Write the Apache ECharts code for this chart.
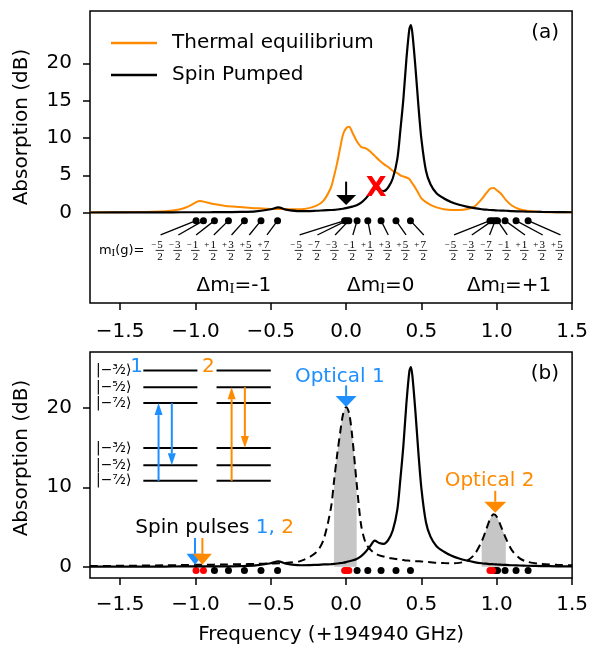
<!DOCTYPE html>
<html>
<head>
<meta charset="utf-8">
<script src="https://cdn.jsdelivr.net/npm/echarts@6/dist/echarts.min.js"></script>
<style>
  html, body { margin: 0; padding: 0; background: #fff; }
  #chart { width: 591px; height: 649px; }
</style>
</head>
<body>
<div id="chart"></div>
<script>
// frequency (GHz, relative to 194940 GHz)
var freq = [-1.7, -1.4, -1.2, -1.1, -1.05, -1.0, -0.97, -0.93, -0.88, -0.8, -0.7, -0.6, -0.5, -0.45, -0.4, -0.3, -0.2, -0.15, -0.1, -0.08, -0.06, -0.04, -0.02, 0.0, 0.02, 0.04, 0.07, 0.1, 0.13, 0.16, 0.19, 0.22, 0.25, 0.28, 0.31, 0.34, 0.36, 0.38, 0.40, 0.42, 0.43, 0.44, 0.46, 0.48, 0.50, 0.53, 0.56, 0.6, 0.65, 0.7, 0.75, 0.8, 0.85, 0.9, 0.93, 0.96, 0.98, 1.0, 1.03, 1.06, 1.1, 1.15, 1.2, 1.3, 1.4, 1.5];
// absorption (dB)
var thermal = [0.05, 0.08, 0.2, 0.45, 0.8, 1.35, 1.55, 1.4, 1.15, 0.9, 0.75, 0.6, 0.5, 0.5, 0.45, 0.45, 0.9, 1.6, 3.4, 4.9, 6.6, 8.6, 10.5, 11.3, 11.5, 10.8, 9.6, 8.8, 8.6, 8.2, 7.6, 7.0, 6.5, 6.1, 5.6, 5.3, 5.0, 4.85, 4.7, 4.5, 4.2, 3.9, 3.3, 2.6, 1.9, 1.4, 1.05, 0.7, 0.45, 0.35, 0.35, 0.45, 0.8, 1.8, 2.6, 3.25, 3.3, 3.0, 2.5, 1.7, 0.95, 0.45, 0.25, 0.1, 0.06, 0.05];
var pumped = [0.02, 0.03, 0.04, 0.05, 0.05, 0.05, 0.05, 0.05, 0.06, 0.07, 0.1, 0.18, 0.45, 0.7, 0.4, 0.2, 0.25, 0.3, 0.35, 0.38, 0.42, 0.47, 0.52, 0.6, 0.7, 0.8, 1.0, 1.35, 1.9, 2.6, 3.3, 3.0, 2.9, 3.4, 4.6, 7.2, 11.0, 15.2, 20.5, 24.6, 25.1, 24.0, 19.5, 14.3, 9.8, 5.6, 3.8, 2.6, 1.9, 1.4, 1.05, 0.8, 0.6, 0.45, 0.4, 0.35, 0.33, 0.3, 0.27, 0.25, 0.2, 0.17, 0.14, 0.1, 0.07, 0.05];
var burned = [0.1, 0.15, 0.2, 0.22, 0.24, 0.25, 0.25, 0.27, 0.28, 0.3, 0.33, 0.37, 0.42, 0.45, 0.5, 0.75, 1.8, 3.4, 7.5, 10.8, 14.0, 16.8, 19.2, 20.1, 19.3, 16.5, 10.5, 5.2, 3.0, 2.2, 1.7, 1.45, 1.3, 1.15, 1.05, 0.95, 0.9, 0.85, 0.8, 0.78, 0.76, 0.75, 0.72, 0.7, 0.68, 0.62, 0.58, 0.52, 0.48, 0.46, 0.5, 0.75, 1.5, 3.2, 4.7, 6.2, 6.6, 6.3, 5.0, 3.6, 2.1, 1.1, 0.65, 0.35, 0.25, 0.2];
var holeWindows = [[-0.08, 0.07], [0.9, 1.06]];

// hyperfine transitions and their ground-state labels
var dotsMinus1 = [-0.996, -0.947, -0.874, -0.781, -0.675, -0.565, -0.455];
var dotsZero = [-0.01, 0.003, 0.018, 0.073, 0.144, 0.232, 0.331, 0.427];
var dotsPlus1 = [0.955, 0.972, 0.99, 1.005, 1.055, 1.128, 1.208];
var labelsMinus1 = ['\u22125/2', '\u22123/2', '\u22121/2', '+1/2', '+3/2', '+5/2', '+7/2'];
var labelsZero = ['\u22125/2', '\u22127/2', '\u22123/2', '\u22121/2', '+1/2', '+3/2', '+5/2', '+7/2'];
var labelsPlus1 = ['\u22125/2', '\u22123/2', '\u22127/2', '\u22121/2', '+1/2', '+3/2', '+5/2'];
var pumpedDots = [-0.996, -0.947, -0.01, 0.003, 0.018, 0.955, 0.972];

var ticksX = [-1.5, -1, -0.5, 0, 0.5, 1, 1.5];
var ticksTop = [0, 5, 10, 15, 20];
var ticksBottom = [0, 10, 20];

var FONT = 'DejaVu Sans';
var SERIF = 'Liberation Serif';
var ORANGE = '#ff8a00';
var BLUE = '#1e8fff';

var chart = echarts.init(document.getElementById('chart'));

var allDots = dotsMinus1.concat(dotsZero, dotsPlus1);
var otherDots = allDots.filter(function (f) { return pumpedDots.indexOf(f) < 0; });

function pairs(ys) {
  return freq.map(function (f, i) { return [f, ys[i]]; });
}
function windowPairs(w) {
  var out = [];
  freq.forEach(function (f, i) {
    if (f >= w[0] - 1e-9 && f <= w[1] + 1e-9) out.push([f, burned[i]]);
  });
  return out;
}
function fmtX(v) {
  return (v < 0 ? '\u2212' : '') + Math.abs(v).toFixed(1);
}

function xAxis(g, name, margin) {
  return {
    type: 'value', gridIndex: g, min: -1.7, max: 1.5,
    axisLine: { show: false, onZero: false }, splitLine: { show: false },
    axisTick: { show: true, length: 7, lineStyle: { color: '#000', width: 1.5 }, customValues: ticksX },
    axisLabel: { customValues: ticksX, formatter: fmtX, fontSize: 20, fontFamily: FONT, color: '#000', margin: margin },
    name: name, nameLocation: 'middle', nameGap: 47,
    nameTextStyle: { fontSize: 20, fontFamily: FONT, color: '#000' }
  };
}
function yAxis(g, min, max, ticks) {
  return {
    type: 'value', gridIndex: g, min: min, max: max,
    axisLine: { show: false, onZero: false }, splitLine: { show: false },
    axisTick: { show: true, length: 7, lineStyle: { color: '#000', width: 1.5 }, customValues: ticks },
    axisLabel: { customValues: ticks, fontSize: 20, fontFamily: FONT, color: '#000', margin: 18 }
  };
}

var option = {
  animation: false,
  backgroundColor: '#fff',
  grid: [
    { left: 90, top: 11, width: 484, height: 292, show: true, borderColor: '#000', borderWidth: 1.5 },
    { left: 90, top: 352, width: 484, height: 226, show: true, borderColor: '#000', borderWidth: 1.5 }
  ],
  xAxis: [xAxis(0, '', 19), xAxis(1, 'Frequency (+194940 GHz)', 17)],
  yAxis: [yAxis(0, -12.1, 27, ticksTop), yAxis(1, -1.4, 27, ticksBottom)],
  legend: {
    data: ['Thermal equilibrium', 'Spin Pumped'],
    orient: 'vertical', left: 106, top: 28, icon: 'rect',
    itemWidth: 46, itemHeight: 2.5, itemGap: 12,
    textStyle: { fontSize: 20, fontFamily: FONT, color: '#000', padding: [0, 0, 0, 10] }
  },
  series: [
    { name: 'Thermal equilibrium', type: 'line', xAxisIndex: 0, yAxisIndex: 0, data: pairs(thermal),
      symbol: 'none', smooth: 0.3, lineStyle: { color: ORANGE, width: 2 }, itemStyle: { color: ORANGE } },
    { name: 'Spin Pumped', type: 'line', xAxisIndex: 0, yAxisIndex: 0, data: pairs(pumped),
      symbol: 'none', smooth: 0.3, lineStyle: { color: '#000', width: 2.2 }, itemStyle: { color: '#000' } },
    { name: 'lines a', type: 'scatter', xAxisIndex: 0, yAxisIndex: 0,
      data: allDots.map(function (f) { return [f, -1.07]; }), symbolSize: 7, itemStyle: { color: '#000', opacity: 1 } },
    { name: 'hole 1', type: 'line', xAxisIndex: 1, yAxisIndex: 1, data: windowPairs(holeWindows[0]),
      symbol: 'none', smooth: 0.3, lineStyle: { width: 0 }, areaStyle: { color: '#c6c6c6', opacity: 1 } },
    { name: 'hole 2', type: 'line', xAxisIndex: 1, yAxisIndex: 1, data: windowPairs(holeWindows[1]),
      symbol: 'none', smooth: 0.3, lineStyle: { width: 0 }, areaStyle: { color: '#c6c6c6', opacity: 1 } },
    { name: 'Burned', type: 'line', xAxisIndex: 1, yAxisIndex: 1, data: pairs(burned),
      symbol: 'none', smooth: 0.3, lineStyle: { color: '#000', width: 2, type: [8, 5] } },
    { name: 'Spin Pumped b', type: 'line', xAxisIndex: 1, yAxisIndex: 1, data: pairs(pumped),
      symbol: 'none', smooth: 0.3, lineStyle: { color: '#000', width: 2.2 } },
    { name: 'lines b', type: 'scatter', xAxisIndex: 1, yAxisIndex: 1,
      data: otherDots.map(function (f) { return [f, -0.46]; }), symbolSize: 7, itemStyle: { color: '#000', opacity: 1 } },
    { name: 'pumped lines b', type: 'scatter', xAxisIndex: 1, yAxisIndex: 1,
      data: pumpedDots.map(function (f) { return [f, -0.46]; }), symbolSize: 7, itemStyle: { color: '#ff0000', opacity: 1 } }
  ]
};
chart.setOption(option);

// ---- annotations ----
function P(g, x, y) { return chart.convertToPixel({ gridIndex: g }, [x, y]); }
var el = [];
function line(a, b, color, w) {
  el.push({ type: 'line', silent: true, z: 100, shape: { x1: a[0], y1: a[1], x2: b[0], y2: b[1] }, style: { stroke: color, lineWidth: w } });
}
function text(p, str, o) {
  o = o || {};
  var st = {
    text: str, fill: o.color || '#000',
    font: (o.weight || 'normal') + ' ' + (o.size || 20) + 'px "' + (o.family || FONT) + '"',
    textAlign: o.align || 'center', textVerticalAlign: o.valign || 'middle',
    align: o.align || 'center', verticalAlign: o.valign || 'middle'
  };
  if (o.rich) st.rich = o.rich;
  el.push({ type: 'text', silent: true, z: 100, x: p[0], y: p[1], rotation: o.rot || 0, style: st });
}
function arrow(p0, p1, color, headW, headL, lw) {
  var dir = p1[1] > p0[1] ? 1 : -1;
  var base = p1[1] - dir * headL;
  line(p0, [p1[0], base], color, lw);
  el.push({ type: 'polygon', silent: true, z: 100,
    shape: { points: [[p1[0] - headW / 2, base], [p1[0] + headW / 2, base], [p1[0], p1[1]]] },
    style: { fill: color } });
}

// axis titles
text([22, 127], 'Absorption (dB)', { rot: Math.PI / 2 });
text([22, 458], 'Absorption (dB)', { rot: Math.PI / 2 });

// panel tags
text(P(0, 1.413, 24.05), '(a)', { align: 'right' });
text(P(1, 1.413, 24.3), '(b)', { align: 'right' });

// panel (a): transition labels
var groups = [
  { dots: dotsMinus1, labels: labelsMinus1, start: -1.238 },
  { dots: dotsZero, labels: labelsZero, start: -0.315 },
  { dots: dotsPlus1, labels: labelsPlus1, start: 0.710 }
];
var step = 0.1177;
groups.forEach(function (gr) {
  gr.labels.forEach(function (lab, i) {
    var fx = gr.start + i * step;
    var cx = P(0, fx, 0)[0];
    var top = P(0, fx, -2.99);
    var dot = P(0, gr.dots[i], -1.07);
    line([cx + 1, top[1]], dot, '#000', 1.3);
    var yNum = P(0, fx, -4.32)[1], yBar = P(0, fx, -5.06)[1], yDen = P(0, fx, -5.93)[1];
    text([cx - 3.5, yNum], lab.charAt(0), { size: 9, family: SERIF, align: 'right' });
    text([cx + 0.5, yNum], lab.charAt(1), { size: 11, family: SERIF });
    line([cx - 4, yBar], [cx + 4.5, yBar], '#000', 0.8);
    text([cx + 0.5, yDen], lab.charAt(3), { size: 11, family: SERIF });
  });
});
text(P(0, -1.641, -5.13), '{a|m}{s|I}{a|(g)=}', {
  align: 'left', size: 13,
  rich: {
    a: { font: '13px "' + FONT + '"', fill: '#000', lineHeight: 16 },
    s: { font: '11px "' + SERIF + '"', fill: '#000', lineHeight: 8, verticalAlign: 'bottom' }
  }
});
var dmRich = {
  a: { font: '20px "' + FONT + '"', fill: '#000', lineHeight: 22 },
  s: { font: '15px "' + SERIF + '"', fill: '#000', lineHeight: 9, verticalAlign: 'bottom' }
};
text(P(0, -0.745, -9.81), '{a|\u0394m}{s|I}{a|=-1}', { rich: dmRich });
text(P(0, 0.23, -9.81), '{a|\u0394m}{s|I}{a|=0}', { rich: dmRich });
text(P(0, 1.082, -9.81), '{a|\u0394m}{s|I}{a|=+1}', { rich: dmRich });

// panel (a): burn position and blocked transition
arrow(P(0, 0, 4.15), P(0, 0, 1.03), '#000', 20, 10, 2);
text(P(0, 0.2, 3.17), 'X', { color: '#ff0000', size: 27, weight: 'bold' });

// panel (b): pulse markers
text(P(1, -0.042, 23.9), 'Optical 1', { color: BLUE });
arrow(P(1, 0, 22.8), P(1, 0, 20.1), BLUE, 21, 11, 2);
text(P(1, 0.952, 10.8), 'Optical 2', { color: ORANGE });
arrow(P(1, 0.99, 9.55), P(1, 0.99, 6.8), ORANGE, 22, 11, 2);
text(P(1, -1.399, 4.88), '{k|Spin pulses }{b|1,}{o| 2}', {
  align: 'left',
  rich: {
    k: { font: '20px "' + FONT + '"', fill: '#000' },
    b: { font: '20px "' + FONT + '"', fill: BLUE },
    o: { font: '20px "' + FONT + '"', fill: ORANGE }
  }
});
arrow(P(1, -1.003, 3.63), P(1, -1.003, 0.25), BLUE, 17, 11, 2);
arrow(P(1, -0.954, 3.63), P(1, -0.954, 0.25), ORANGE, 19, 11, 2);

// panel (b): level scheme inset
var levelY = [24.67, 22.58, 20.58, 14.94, 12.77, 10.81];
var levelNames = ['|\u2212\u00b3\u2044\u2082\u27e9', '|\u2212\u2075\u2044\u2082\u27e9', '|\u2212\u2077\u2044\u2082\u27e9',
                  '|\u2212\u00b3\u2044\u2082\u27e9', '|\u2212\u2075\u2044\u2082\u27e9', '|\u2212\u2077\u2044\u2082\u27e9'];
levelY.forEach(function (y, i) {
  line(P(1, -1.346, y), P(1, -0.987, y), '#000', 2);
  line(P(1, -0.86, y), P(1, -0.5, y), '#000', 2);
  text(P(1, -1.543, y), levelNames[i], { size: 14 });
});
text(P(1, -1.39, 25.17), '1', { color: BLUE });
text(P(1, -0.915, 25.17), '2', { color: ORANGE });
arrow(P(1, -1.245, 10.81), P(1, -1.245, 20.58), BLUE, 8, 12, 2);
arrow(P(1, -1.157, 20.58), P(1, -1.157, 12.77), BLUE, 8, 12, 2);
arrow(P(1, -0.76, 10.81), P(1, -0.76, 22.58), ORANGE, 8, 12, 2);
arrow(P(1, -0.672, 22.58), P(1, -0.672, 14.94), ORANGE, 8, 12, 2);

chart.setOption({ graphic: { elements: el } });
</script>
</body>
</html>
